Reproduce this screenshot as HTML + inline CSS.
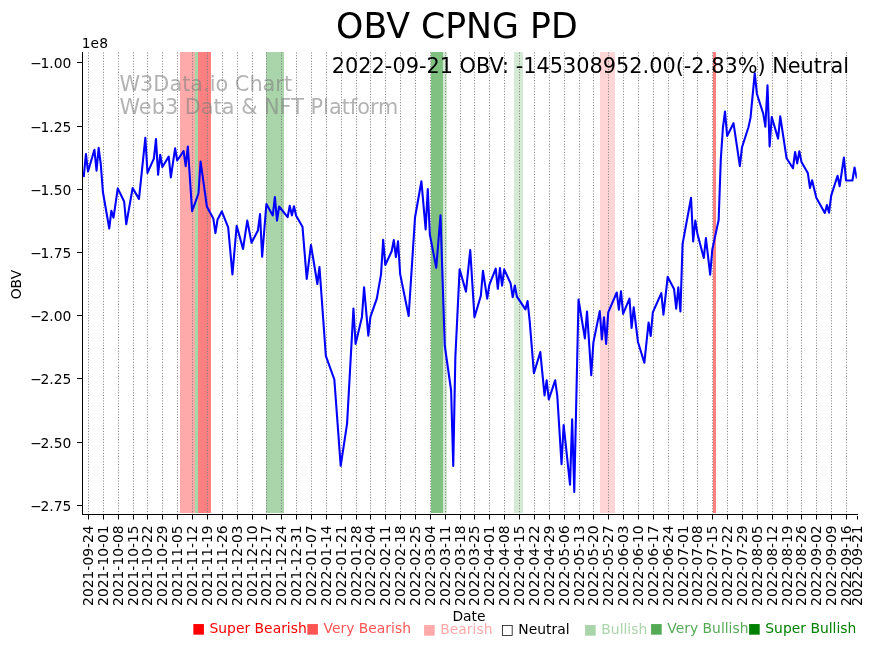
<!DOCTYPE html>
<html><head><meta charset="utf-8"><title>OBV CPNG PD</title>
<style>
html,body{margin:0;padding:0;background:#fff;}
body{width:875px;height:646px;overflow:hidden;}
svg{display:block;}
text{font-family:"DejaVu Sans","Liberation Sans",sans-serif;}
.tk{font-size:13.89px;fill:#000;}
.lg{font-size:13.89px;}
</style></head><body>
<svg width="875" height="646" viewBox="0 0 875 646">
<rect width="875" height="646" fill="#fff"/>

<g shape-rendering="crispEdges">
<rect x="180.00" y="52.0" width="14.95" height="461.00" fill="#ffaaaa"/>
<rect x="194.95" y="52.0" width="2.95" height="461.00" fill="#a6d5a6"/>
<rect x="197.90" y="52.0" width="13.00" height="461.00" fill="#ff8080"/>
<rect x="266.00" y="52.0" width="17.90" height="461.00" fill="#aad4aa"/>
<rect x="431.30" y="52.0" width="11.70" height="461.00" fill="#80c080"/>
<rect x="443.00" y="52.0" width="3.80" height="461.00" fill="#d5ead5"/>
<rect x="514.20" y="52.0" width="8.70" height="461.00" fill="#d5ead5"/>
<rect x="600.00" y="52.0" width="14.80" height="461.00" fill="#ffd5d5"/>
<rect x="713.00" y="52.0" width="3.10" height="461.00" fill="#ff8080"/>
</g>
<g stroke="#808080" stroke-width="1" stroke-dasharray="1.0417 1.7207" stroke-dashoffset="2.33" fill="none">
<path d="M88.50 52.0V514.5"/>
<path d="M103.50 52.0V514.5"/>
<path d="M118.50 52.0V514.5"/>
<path d="M133.50 52.0V514.5"/>
<path d="M147.50 52.0V514.5"/>
<path d="M162.50 52.0V514.5"/>
<path d="M177.50 52.0V514.5"/>
<path d="M192.50 52.0V514.5"/>
<path d="M207.50 52.0V514.5"/>
<path d="M222.50 52.0V514.5"/>
<path d="M237.50 52.0V514.5"/>
<path d="M252.50 52.0V514.5"/>
<path d="M266.50 52.0V514.5"/>
<path d="M281.50 52.0V514.5"/>
<path d="M296.50 52.0V514.5"/>
<path d="M311.50 52.0V514.5"/>
<path d="M326.50 52.0V514.5"/>
<path d="M341.50 52.0V514.5"/>
<path d="M356.50 52.0V514.5"/>
<path d="M370.50 52.0V514.5"/>
<path d="M385.50 52.0V514.5"/>
<path d="M400.50 52.0V514.5"/>
<path d="M415.50 52.0V514.5"/>
<path d="M430.50 52.0V514.5"/>
<path d="M445.50 52.0V514.5"/>
<path d="M460.50 52.0V514.5"/>
<path d="M474.50 52.0V514.5"/>
<path d="M489.50 52.0V514.5"/>
<path d="M504.50 52.0V514.5"/>
<path d="M519.50 52.0V514.5"/>
<path d="M534.50 52.0V514.5"/>
<path d="M549.50 52.0V514.5"/>
<path d="M564.50 52.0V514.5"/>
<path d="M579.50 52.0V514.5"/>
<path d="M593.50 52.0V514.5"/>
<path d="M608.50 52.0V514.5"/>
<path d="M623.50 52.0V514.5"/>
<path d="M638.50 52.0V514.5"/>
<path d="M653.50 52.0V514.5"/>
<path d="M668.50 52.0V514.5"/>
<path d="M683.50 52.0V514.5"/>
<path d="M697.50 52.0V514.5"/>
<path d="M712.50 52.0V514.5"/>
<path d="M727.50 52.0V514.5"/>
<path d="M742.50 52.0V514.5"/>
<path d="M757.50 52.0V514.5"/>
<path d="M772.50 52.0V514.5"/>
<path d="M787.50 52.0V514.5"/>
<path d="M801.50 52.0V514.5"/>
<path d="M816.50 52.0V514.5"/>
<path d="M831.50 52.0V514.5"/>
<path d="M846.50 52.0V514.5"/>
</g>
<clipPath id="c"><rect x="82.0" y="52.0" width="774.8" height="462.5"/></clipPath>
<path d="M83.79 176.10 L85.91 154.00 L88.03 171.50 L94.40 149.70 L96.53 170.70 L98.65 147.80 L100.77 164.00 L102.90 192.00 L109.27 228.50 L111.39 210.70 L113.51 217.70 L117.76 188.40 L124.13 201.50 L126.25 224.30 L132.62 188.10 L138.99 198.90 L145.36 137.70 L147.49 172.90 L153.86 158.60 L155.98 139.10 L158.10 174.60 L160.23 154.70 L162.35 167.00 L168.72 156.60 L170.84 177.40 L175.09 148.30 L177.21 160.50 L183.58 151.10 L185.71 166.10 L187.83 146.50 L192.08 211.30 L198.45 193.50 L200.57 161.50 L206.94 206.80 L213.31 218.40 L215.43 233.10 L217.56 219.50 L221.80 211.40 L228.17 227.40 L232.42 274.40 L236.66 225.80 L243.03 248.90 L247.28 220.60 L251.53 242.70 L257.90 230.50 L260.02 214.10 L262.14 256.80 L266.39 204.00 L272.76 215.40 L274.88 197.10 L277.01 220.60 L279.13 206.50 L287.62 217.20 L289.75 205.70 L291.87 215.40 L293.99 206.20 L296.12 215.70 L302.49 226.70 L306.73 278.90 L310.98 245.00 L317.35 284.00 L319.47 267.00 L325.84 355.80 L334.34 379.50 L340.71 465.80 L347.08 423.60 L353.45 308.50 L355.57 343.90 L361.94 316.90 L364.06 287.20 L368.31 335.60 L370.43 316.90 L376.80 298.60 L381.05 274.10 L383.17 239.90 L385.29 265.00 L391.66 251.30 L393.79 240.10 L395.91 257.00 L398.03 241.20 L400.16 274.10 L408.65 316.00 L415.02 217.50 L421.39 181.20 L425.64 229.40 L427.76 189.10 L429.88 234.70 L436.25 267.70 L440.50 215.30 L444.75 345.50 L451.12 390.50 L453.24 465.90 L455.36 357.00 L459.61 269.20 L465.98 291.60 L470.23 250.00 L474.47 317.30 L480.84 295.80 L482.97 270.80 L487.21 298.70 L489.34 284.80 L495.71 268.70 L497.83 288.80 L499.95 268.00 L502.08 285.60 L504.20 269.40 L510.57 283.20 L512.69 297.20 L514.82 285.50 L516.94 296.70 L525.43 309.40 L527.56 301.10 L529.68 321.00 L533.92 373.30 L540.29 352.10 L544.54 395.40 L546.66 380.30 L548.79 399.50 L555.16 380.30 L557.28 395.60 L561.53 464.30 L563.65 425.00 L570.02 484.60 L572.14 419.20 L574.27 491.90 L578.51 299.50 L584.88 338.40 L587.01 311.50 L591.25 375.10 L593.38 342.50 L599.75 311.10 L601.87 339.50 L603.99 317.30 L606.12 343.90 L608.24 312.40 L616.73 292.50 L618.86 309.60 L620.98 291.20 L623.10 313.80 L629.47 298.70 L631.60 328.00 L633.72 307.40 L637.97 342.00 L644.34 362.80 L648.58 322.50 L650.71 336.00 L652.83 312.40 L661.32 293.20 L663.45 314.60 L667.69 276.90 L674.06 289.00 L676.19 308.70 L678.31 287.35 L680.43 311.50 L682.56 244.10 L691.05 197.70 L693.17 241.50 L695.29 220.50 L697.42 233.70 L703.79 258.00 L705.91 238.00 L710.16 274.60 L712.28 249.60 L718.65 220.00 L720.77 160.00 L722.90 128.00 L725.02 111.50 L727.14 136.00 L733.51 123.20 L739.88 166.00 L742.01 147.20 L748.38 127.50 L750.50 117.90 L754.75 73.20 L756.87 93.70 L763.24 113.70 L765.36 126.70 L767.49 85.30 L769.61 146.50 L771.73 117.00 L778.10 138.60 L780.23 116.30 L786.60 158.30 L792.97 168.25 L795.09 152.00 L797.21 163.40 L799.34 151.30 L801.46 161.90 L807.83 172.90 L809.95 187.90 L812.08 180.30 L816.32 197.70 L824.82 213.00 L826.94 205.10 L829.06 212.70 L831.18 195.60 L837.55 175.70 L839.68 186.20 L843.92 157.50 L846.05 180.50 L852.42 180.50 L854.54 167.50 L856.66 177.40" fill="none" stroke="#0000ff" stroke-width="2.08" stroke-linejoin="round" stroke-linecap="square" clip-path="url(#c)"/>
<path d="M82.5 52.0V515.0" stroke="#000" stroke-width="1" fill="none"/>
<path d="M82.0 514.5H858.0" stroke="#000" stroke-width="1" fill="none"/>
<g stroke="#000" stroke-width="1">
<path d="M88.50 514.5v5"/>
<path d="M103.50 514.5v5"/>
<path d="M118.50 514.5v5"/>
<path d="M133.50 514.5v5"/>
<path d="M147.50 514.5v5"/>
<path d="M162.50 514.5v5"/>
<path d="M177.50 514.5v5"/>
<path d="M192.50 514.5v5"/>
<path d="M207.50 514.5v5"/>
<path d="M222.50 514.5v5"/>
<path d="M237.50 514.5v5"/>
<path d="M252.50 514.5v5"/>
<path d="M266.50 514.5v5"/>
<path d="M281.50 514.5v5"/>
<path d="M296.50 514.5v5"/>
<path d="M311.50 514.5v5"/>
<path d="M326.50 514.5v5"/>
<path d="M341.50 514.5v5"/>
<path d="M356.50 514.5v5"/>
<path d="M370.50 514.5v5"/>
<path d="M385.50 514.5v5"/>
<path d="M400.50 514.5v5"/>
<path d="M415.50 514.5v5"/>
<path d="M430.50 514.5v5"/>
<path d="M445.50 514.5v5"/>
<path d="M460.50 514.5v5"/>
<path d="M474.50 514.5v5"/>
<path d="M489.50 514.5v5"/>
<path d="M504.50 514.5v5"/>
<path d="M519.50 514.5v5"/>
<path d="M534.50 514.5v5"/>
<path d="M549.50 514.5v5"/>
<path d="M564.50 514.5v5"/>
<path d="M579.50 514.5v5"/>
<path d="M593.50 514.5v5"/>
<path d="M608.50 514.5v5"/>
<path d="M623.50 514.5v5"/>
<path d="M638.50 514.5v5"/>
<path d="M653.50 514.5v5"/>
<path d="M668.50 514.5v5"/>
<path d="M683.50 514.5v5"/>
<path d="M697.50 514.5v5"/>
<path d="M712.50 514.5v5"/>
<path d="M727.50 514.5v5"/>
<path d="M742.50 514.5v5"/>
<path d="M757.50 514.5v5"/>
<path d="M772.50 514.5v5"/>
<path d="M787.50 514.5v5"/>
<path d="M801.50 514.5v5"/>
<path d="M816.50 514.5v5"/>
<path d="M831.50 514.5v5"/>
<path d="M846.50 514.5v5"/>
<path d="M857.50 516v3.5"/>
</g>
<g class="tk">
<text transform="translate(92.60,525.30) rotate(-90)" text-anchor="end">2021-09-24</text>
<text transform="translate(107.60,525.30) rotate(-90)" text-anchor="end">2021-10-01</text>
<text transform="translate(122.60,525.30) rotate(-90)" text-anchor="end">2021-10-08</text>
<text transform="translate(137.60,525.30) rotate(-90)" text-anchor="end">2021-10-15</text>
<text transform="translate(151.60,525.30) rotate(-90)" text-anchor="end">2021-10-22</text>
<text transform="translate(166.60,525.30) rotate(-90)" text-anchor="end">2021-10-29</text>
<text transform="translate(181.60,525.30) rotate(-90)" text-anchor="end">2021-11-05</text>
<text transform="translate(196.60,525.30) rotate(-90)" text-anchor="end">2021-11-12</text>
<text transform="translate(211.60,525.30) rotate(-90)" text-anchor="end">2021-11-19</text>
<text transform="translate(226.60,525.30) rotate(-90)" text-anchor="end">2021-11-26</text>
<text transform="translate(241.60,525.30) rotate(-90)" text-anchor="end">2021-12-03</text>
<text transform="translate(256.60,525.30) rotate(-90)" text-anchor="end">2021-12-10</text>
<text transform="translate(270.60,525.30) rotate(-90)" text-anchor="end">2021-12-17</text>
<text transform="translate(285.60,525.30) rotate(-90)" text-anchor="end">2021-12-24</text>
<text transform="translate(300.60,525.30) rotate(-90)" text-anchor="end">2021-12-31</text>
<text transform="translate(315.60,525.30) rotate(-90)" text-anchor="end">2022-01-07</text>
<text transform="translate(330.60,525.30) rotate(-90)" text-anchor="end">2022-01-14</text>
<text transform="translate(345.60,525.30) rotate(-90)" text-anchor="end">2022-01-21</text>
<text transform="translate(360.60,525.30) rotate(-90)" text-anchor="end">2022-01-28</text>
<text transform="translate(374.60,525.30) rotate(-90)" text-anchor="end">2022-02-04</text>
<text transform="translate(389.60,525.30) rotate(-90)" text-anchor="end">2022-02-11</text>
<text transform="translate(404.60,525.30) rotate(-90)" text-anchor="end">2022-02-18</text>
<text transform="translate(419.60,525.30) rotate(-90)" text-anchor="end">2022-02-25</text>
<text transform="translate(434.60,525.30) rotate(-90)" text-anchor="end">2022-03-04</text>
<text transform="translate(449.60,525.30) rotate(-90)" text-anchor="end">2022-03-11</text>
<text transform="translate(464.60,525.30) rotate(-90)" text-anchor="end">2022-03-18</text>
<text transform="translate(478.60,525.30) rotate(-90)" text-anchor="end">2022-03-25</text>
<text transform="translate(493.60,525.30) rotate(-90)" text-anchor="end">2022-04-01</text>
<text transform="translate(508.60,525.30) rotate(-90)" text-anchor="end">2022-04-08</text>
<text transform="translate(523.60,525.30) rotate(-90)" text-anchor="end">2022-04-15</text>
<text transform="translate(538.60,525.30) rotate(-90)" text-anchor="end">2022-04-22</text>
<text transform="translate(553.60,525.30) rotate(-90)" text-anchor="end">2022-04-29</text>
<text transform="translate(568.60,525.30) rotate(-90)" text-anchor="end">2022-05-06</text>
<text transform="translate(583.60,525.30) rotate(-90)" text-anchor="end">2022-05-13</text>
<text transform="translate(597.60,525.30) rotate(-90)" text-anchor="end">2022-05-20</text>
<text transform="translate(612.60,525.30) rotate(-90)" text-anchor="end">2022-05-27</text>
<text transform="translate(627.60,525.30) rotate(-90)" text-anchor="end">2022-06-03</text>
<text transform="translate(642.60,525.30) rotate(-90)" text-anchor="end">2022-06-10</text>
<text transform="translate(657.60,525.30) rotate(-90)" text-anchor="end">2022-06-17</text>
<text transform="translate(672.60,525.30) rotate(-90)" text-anchor="end">2022-06-24</text>
<text transform="translate(687.60,525.30) rotate(-90)" text-anchor="end">2022-07-01</text>
<text transform="translate(701.60,525.30) rotate(-90)" text-anchor="end">2022-07-08</text>
<text transform="translate(716.60,525.30) rotate(-90)" text-anchor="end">2022-07-15</text>
<text transform="translate(731.60,525.30) rotate(-90)" text-anchor="end">2022-07-22</text>
<text transform="translate(746.60,525.30) rotate(-90)" text-anchor="end">2022-07-29</text>
<text transform="translate(761.60,525.30) rotate(-90)" text-anchor="end">2022-08-05</text>
<text transform="translate(776.60,525.30) rotate(-90)" text-anchor="end">2022-08-12</text>
<text transform="translate(791.60,525.30) rotate(-90)" text-anchor="end">2022-08-19</text>
<text transform="translate(805.60,525.30) rotate(-90)" text-anchor="end">2022-08-26</text>
<text transform="translate(820.60,525.30) rotate(-90)" text-anchor="end">2022-09-02</text>
<text transform="translate(835.60,525.30) rotate(-90)" text-anchor="end">2022-09-09</text>
<text transform="translate(850.60,525.30) rotate(-90)" text-anchor="end">2022-09-16</text>
<text transform="translate(861.60,525.30) rotate(-90)" text-anchor="end">2022-09-21</text>
</g>
<g stroke="#000" stroke-width="1">
<path d="M82.0 62.50h-5"/>
<path d="M82.0 126.50h-5"/>
<path d="M82.0 189.50h-5"/>
<path d="M82.0 252.50h-5"/>
<path d="M82.0 315.50h-5"/>
<path d="M82.0 378.50h-5"/>
<path d="M82.0 442.50h-5"/>
<path d="M82.0 505.50h-5"/>
</g>
<g class="tk" text-anchor="end">
<text x="71.4" y="68.40">−<tspan dx="-1.4">1.00</tspan></text>
<text x="71.4" y="131.60">−<tspan dx="-1.4">1.25</tspan></text>
<text x="71.4" y="194.80">−<tspan dx="-1.4">1.50</tspan></text>
<text x="71.4" y="258.00">−<tspan dx="-1.4">1.75</tspan></text>
<text x="71.4" y="321.20">−<tspan dx="-1.4">2.00</tspan></text>
<text x="71.4" y="384.40">−<tspan dx="-1.4">2.25</tspan></text>
<text x="71.4" y="447.60">−<tspan dx="-1.4">2.50</tspan></text>
<text x="71.4" y="510.80">−<tspan dx="-1.4">2.75</tspan></text>
</g>
<text class="tk" x="81.8" y="47.6">1e8</text>
<text class="tk" transform="translate(21,284.6) rotate(-90)" text-anchor="middle">OBV</text>
<text class="tk" x="469" y="621.0" text-anchor="middle">Date</text>
<text x="456.9" y="37.7" text-anchor="middle" font-size="34.72px" fill="#000">OBV CPNG PD</text>
<text x="849.1" y="73.2" text-anchor="end" font-size="20.83px" fill="#000">2022-09-21 OBV: -145308952.00(-2.83%) Neutral</text>
<text x="119.5" y="91" font-size="20.83px" fill="#808080" fill-opacity="0.6">W3Data.io Chart</text>
<text x="119.5" y="113.5" font-size="20.83px" fill="#808080" fill-opacity="0.6">Web3 Data &amp; NFT Platform</text>
<text class="lg" x="192.0" y="632.9" fill="#ff0000">■ Super Bearish</text>
<text class="lg" x="306.0" y="632.9" fill="#ff5555">■ Very Bearish</text>
<text class="lg" x="422.8" y="634.1" fill="#ffaaaa">■ Bearish</text>
<text class="lg" x="500.8" y="634.1" fill="#000000">□ Neutral</text>
<text class="lg" x="583.8" y="634.1" fill="#aad4aa">■ Bullish</text>
<text class="lg" x="649.8" y="632.9" fill="#55aa55">■ Very Bullish</text>
<text class="lg" x="747.8" y="632.9" fill="#008000">■ Super Bullish</text>
</svg></body></html>
